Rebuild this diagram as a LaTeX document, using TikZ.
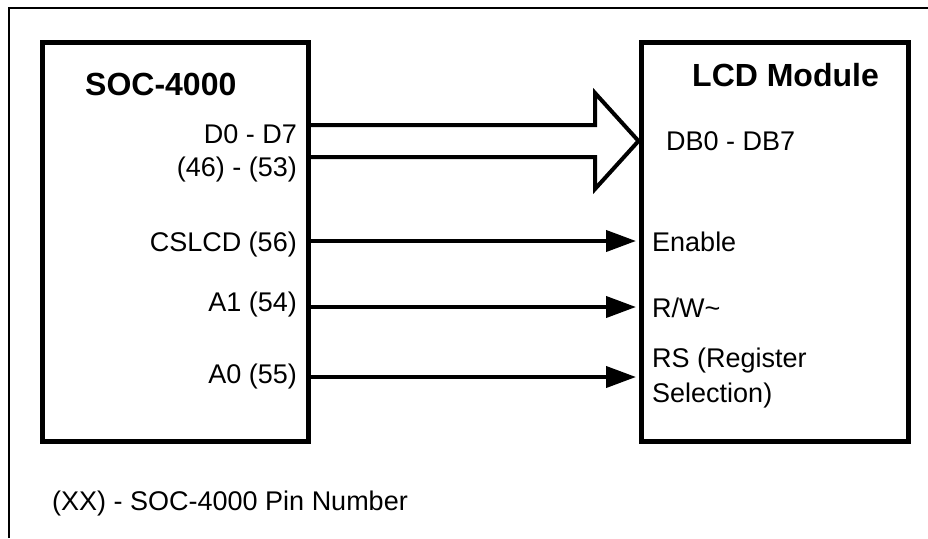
\documentclass[tikz,border=0pt]{standalone}
\usepackage{fontspec}
\setmainfont{Liberation Sans}
\usetikzlibrary{arrows.meta}

\begin{document}
\begin{tikzpicture}[x=1pt, y=-1pt,
        block/.style={draw, line width=5pt, inner sep=0pt, minimum height=399pt},
        title/.style={anchor=base west, inner sep=0pt, font=\fontsize{32}{38}\selectfont\bfseries},
        pinl/.style={anchor=base east, inner sep=0pt, font=\fontsize{27}{33}\selectfont},
        pinr/.style={anchor=base west, inner sep=0pt, font=\fontsize{27}{33}\selectfont},
        sig/.style={line width=4pt, -{Triangle[length=30pt, width=21pt]}},
        bus/.style={line width=4pt, line join=miter}]
        \useasboundingbox (0,0) rectangle (928,538);
        \draw[line width=2pt] (9,538) -- (9,8) -- (928,8);

        % the two chips
        \node[block, minimum width=266pt] (soc) at (175,241.5) {};
        \node[block, minimum width=267pt] (lcd) at (774.5,241.5) {};

        \node[title] (soct) at (85,95) {SOC-4000};
        \node[title] (lcdt) at (692,86) {LCD Module};

        % pin names
        \node[pinl] (d07) at (297,143) {D0 - D7};
        \node[pinl] (dpin) at (297,176) {(46) - (53)};
        \node[pinl] (cs) at (297,251) {CSLCD (56)};
        \node[pinl] (a1) at (297,311) {A1 (54)};
        \node[pinl] (a0) at (297,383) {A0 (55)};

        \node[pinr] (db) at (666,150) {DB0 - DB7};
        \node[pinr] (en) at (652,251) {Enable};
        \node[pinr] (rw) at (652,317) {R/W\textasciitilde};
        \node[pinr] (rs) at (652,367) {RS (Register};
        \node[pinr] (rsel) at (652,402) {Selection)};

        % data bus
        \draw[bus] (soc.east |- 0,125) -- (595,125) -- (595,93) -- (lcd.west |- 0,141)
            -- (595,189) -- (595,157) -- (soc.east |- 0,157);

        % control lines
        \coordinate (r1) at (0,241);
        \coordinate (r2) at (0,307);
        \coordinate (r3) at (0,377);
        \draw[sig] (soc.east |- r1) -- ([xshift=-2.5pt]lcd.west |- r1);
        \draw[sig] (soc.east |- r2) -- ([xshift=-2.5pt]lcd.west |- r2);
        \draw[sig] (soc.east |- r3) -- ([xshift=-2.5pt]lcd.west |- r3);

        \node[pinr] (note) at (52,510) {(XX) - SOC-4000 Pin Number};
    \end{tikzpicture}
\end{document}
